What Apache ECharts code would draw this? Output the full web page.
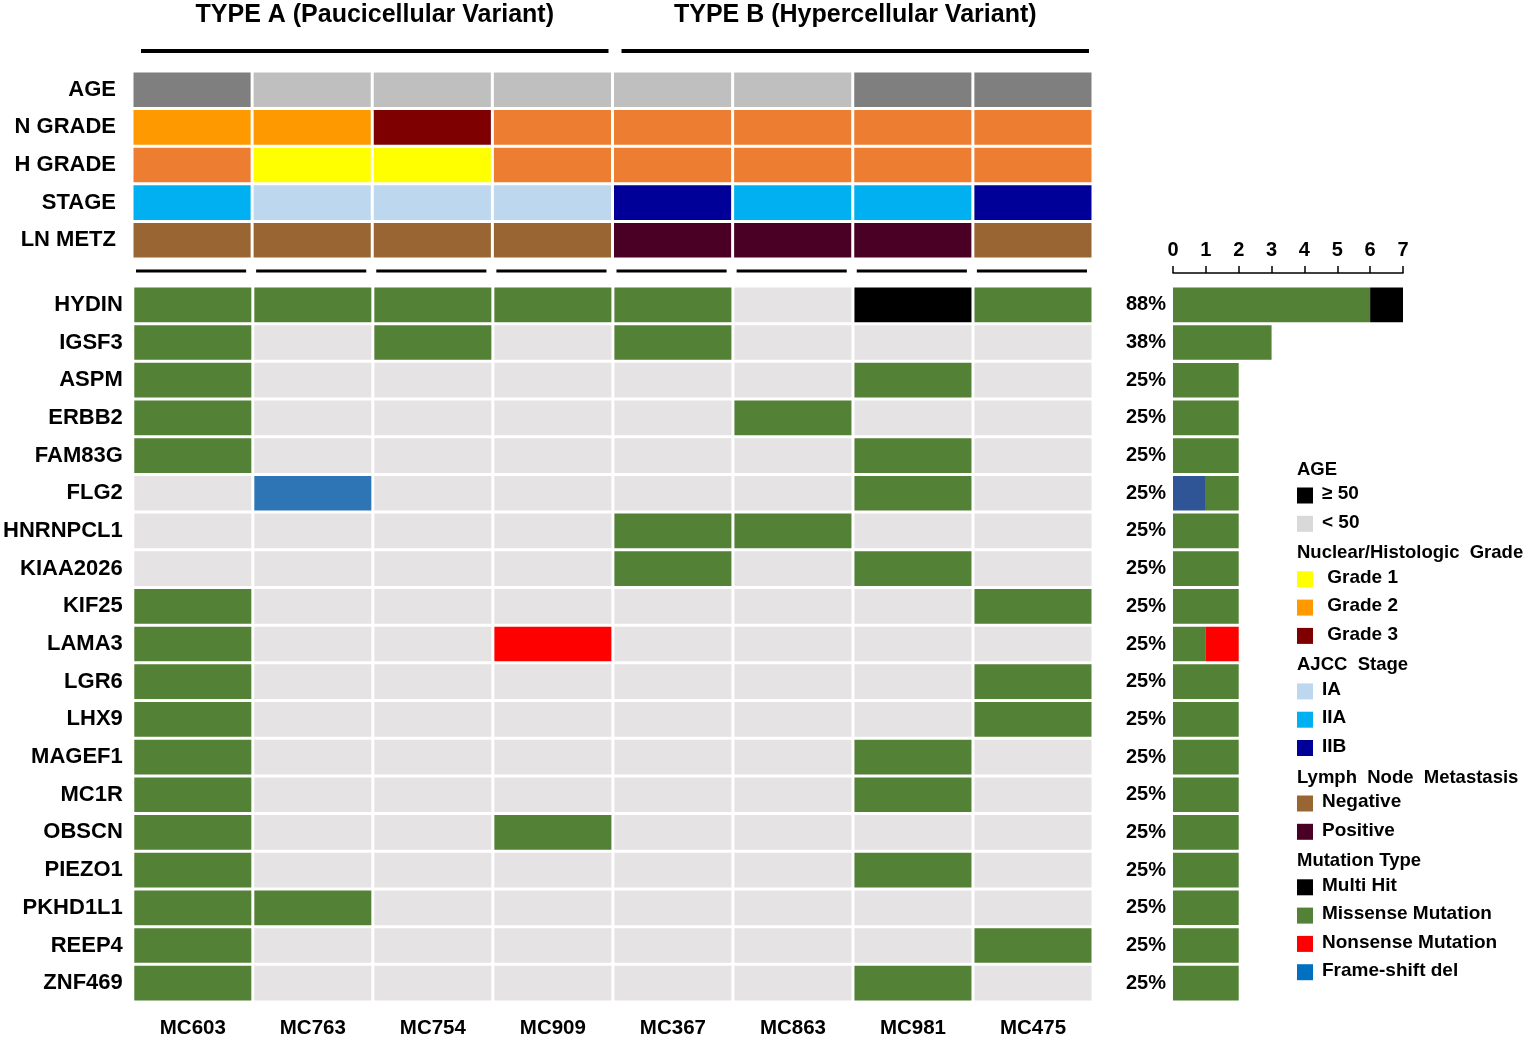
<!DOCTYPE html>
<html><head><meta charset="utf-8">
<script src="https://cdn.jsdelivr.net/npm/echarts@6/dist/echarts.min.js"></script>
<style>html,body{margin:0;padding:0;background:#fff}#c{width:1535px;height:1046px}</style>
</head><body><div id="c"></div>
<script>
// ---------- DATA ----------
const samples = ['MC603','MC763','MC754','MC909','MC367','MC863','MC981','MC475'];
const groupTitles = ['TYPE A (Paucicellular Variant)','TYPE B (Hypercellular Variant)'];
const groupStart = [0, 4];
const groupEnd = [3, 7];
const clinicalRows = ['AGE','N GRADE','H GRADE','STAGE','LN METZ'];
const ageRow   = ['old','young','young','young','young','young','old','old'];
const nGradeRow = ['G2','G2','G3','G2b','G2b','G2b','G2b','G2b'];
const hGradeRow = ['G2b','G1','G1','G2b','G2b','G2b','G2b','G2b'];
const stageRow = ['IIA','IA','IA','IA','IIB','IIA','IIA','IIB'];
const lnRow    = ['NEG','NEG','NEG','NEG','POS','POS','POS','NEG'];
const genes = ['HYDIN','IGSF3','ASPM','ERBB2','FAM83G','FLG2','HNRNPCL1','KIAA2026','KIF25','LAMA3','LGR6','LHX9','MAGEF1','MC1R','OBSCN','PIEZO1','PKHD1L1','REEP4','ZNF469'];
// M = missense, H = multi hit, N = nonsense, F = frame-shift del, . = none
const mutations = [
  ['M','M','M','M','M','.','H','M'],
  ['M','.','M','.','M','.','.','.'],
  ['M','.','.','.','.','.','M','.'],
  ['M','.','.','.','.','M','.','.'],
  ['M','.','.','.','.','.','M','.'],
  ['.','F','.','.','.','.','M','.'],
  ['.','.','.','.','M','M','.','.'],
  ['.','.','.','.','M','.','M','.'],
  ['M','.','.','.','.','.','.','M'],
  ['M','.','.','N','.','.','.','.'],
  ['M','.','.','.','.','.','.','M'],
  ['M','.','.','.','.','.','.','M'],
  ['M','.','.','.','.','.','M','.'],
  ['M','.','.','.','.','.','M','.'],
  ['M','.','.','M','.','.','.','.'],
  ['M','.','.','.','.','.','M','.'],
  ['M','M','.','.','.','.','.','.'],
  ['M','.','.','.','.','.','.','M'],
  ['M','.','.','.','.','.','M','.']
];
const frameshiftCount = [0,0,0,0,0,1,0,0,0,0,0,0,0,0,0,0,0,0,0];
const missenseCount   = [6,3,2,2,2,1,2,2,2,1,2,2,2,2,2,2,2,2,2];
const nonsenseCount   = [0,0,0,0,0,0,0,0,0,1,0,0,0,0,0,0,0,0,0];
const multiHitCount   = [1,0,0,0,0,0,0,0,0,0,0,0,0,0,0,0,0,0,0];
const pctLabels = ['88%','38%','25%','25%','25%','25%','25%','25%','25%','25%','25%','25%','25%','25%','25%','25%','25%','25%','25%'];
const countTicks = [0,1,2,3,4,5,6,7];

const legendTitles = ['AGE','Nuclear/Histologic  Grade','AJCC  Stage','Lymph  Node  Metastasis','Mutation Type'];
const legendAge = [['\u2265 50','#000000'],['< 50','#d9d9d9']];
const legendGrade = [[' Grade 1','#ffff00'],[' Grade 2','#ff9900'],[' Grade 3','#7f0000']];
const legendStage = [['IA','#bdd7ee'],['IIA','#00b0f0'],['IIB','#000099']];
const legendLN = [['Negative','#996633'],['Positive','#4a0025']];
const legendMut = [['Multi Hit','#000000'],['Missense Mutation','#538135'],['Nonsense Mutation','#ff0000'],['Frame-shift del','#0070c0']];

// ---------- STYLES ----------
const clinColors = {old:'#7f7f7f', young:'#bfbfbf', G1:'#ffff00', G2:'#ff9900', G2b:'#ed7d31', G3:'#7f0000',
  IA:'#bdd7ee', IIA:'#00b0f0', IIB:'#000099', NEG:'#996633', POS:'#4a0025'};
const mutColors = {M:'#538135', H:'#000000', N:'#ff0000', F:'#2e75b6', '.':'#e5e3e3'};
const FONT = '"Liberation Sans", Arial, sans-serif';

const clinData = [];
[ageRow, nGradeRow, hGradeRow, stageRow, lnRow].forEach((row, r) =>
  row.forEach((k, c) => clinData.push({value:[c, r], itemStyle:{color: clinColors[k]}})));
const geneData = [];
mutations.forEach((row, r) => row.forEach((k, c) => geneData.push({value:[c, r], itemStyle:{color: mutColors[k]}})));

function cellRender(gx, gy) {
  return function (params, api) {
    const p = api.coord([api.value(0), api.value(1)]);
    const s = api.size([1, 1]);
    return {type:'rect', shape:{x:p[0]-s[0]/2+gx/2, y:p[1]-s[1]/2+gy/2, width:s[0]-gx, height:s[1]-gy},
      style:{fill: api.visual('color')}};
  };
}

const chart = echarts.init(document.getElementById('c'), null, {renderer:'canvas'});
const lab = (size, extra) => Object.assign({color:'#000', fontFamily:FONT, fontWeight:'bold', fontSize:size}, extra||{});

const barSeries = [
  ['Frame-shift del', frameshiftCount, '#2f5597'],
  ['Missense Mutation', missenseCount, '#538135'],
  ['Nonsense Mutation', nonsenseCount, '#ff0000'],
  ['Multi Hit', multiHitCount, '#000000']
].map(([name, data, color]) => ({
  name, type:'bar', stack:'total', xAxisIndex:2, yAxisIndex:2, data,
  itemStyle:{color}, barCategoryGap:'8%', silent:true
}));

// legend graphics
const legendSections = [legendAge, legendGrade, legendStage, legendLN, legendMut];
const gfx = [];
let ly = 471;
legendSections.forEach((items, si) => {
  if (si > 0) ly += 31;
  gfx.push({type:'text', left:1297, top:ly-11, style:{text:legendTitles[si], font:'bold 18.5px '+FONT, fill:'#000'}});
  items.forEach((it, ii) => {
    ly += (ii === 0 ? 24.5 : 28.3);
    gfx.push({type:'rect', left:1297, top:ly-8, shape:{width:16, height:16}, style:{fill:it[1]}});
    gfx.push({type:'text', left:1322, top:ly-11, style:{text:it[0], font:'bold 19px '+FONT, fill:'#000'}});
  });
});

chart.setOption({
  animation:false,
  backgroundColor:'#fff',
  graphic: gfx,
  grid:[
    {left:132, top:71, width:961, height:188},
    {left:132, top:286, width:961, height:716},
    {left:1173, top:286, width:230, height:716}
  ],
  xAxis:[
    {gridIndex:0, type:'category', data:samples, show:false},
    {gridIndex:1, type:'category', data:samples, position:'bottom',
      axisLine:{show:false}, axisTick:{show:false}, axisLabel:lab(20.5, {margin:16})},
    {gridIndex:2, type:'value', min:0, max:7, interval:1, position:'top', offset:13,
      axisLine:{show:true, lineStyle:{color:'#000', width:1.5}},
      axisTick:{show:true, length:7, lineStyle:{color:'#000', width:1.5}},
      splitLine:{show:false},
      axisLabel:lab(20, {margin:13, formatter:(v)=> countTicks.indexOf(v) >= 0 ? String(v) : ''})}
  ],
  yAxis:[
    {gridIndex:0, type:'category', data:clinicalRows, inverse:true,
      axisLine:{show:false}, axisTick:{show:false}, axisLabel:lab(22, {margin:16})},
    {gridIndex:1, type:'category', data:genes, inverse:true,
      axisLine:{show:false}, axisTick:{show:false}, axisLabel:lab(22, {margin:10})},
    {gridIndex:2, type:'category', data:genes, inverse:true,
      axisLine:{show:false}, axisTick:{show:false},
      axisLabel:lab(20, {margin:7, formatter:(v, i)=> pctLabels[i]})}
  ],
  series:[
    {type:'custom', xAxisIndex:0, yAxisIndex:0, data:clinData, renderItem:cellRender(3, 3), silent:true},
    {type:'custom', xAxisIndex:1, yAxisIndex:1, data:geneData, renderItem:cellRender(3, 3), silent:true},
    // column separator dashes under clinical rows
    {type:'custom', xAxisIndex:0, yAxisIndex:0, clip:false, silent:true,
      data:samples.map((s, i) => [i, clinicalRows.length-1]),
      renderItem:function(params, api){
        const p = api.coord([api.value(0), api.value(1)]);
        const s = api.size([1, 1]);
        const y = p[1] + s[1]/2 + 12;
        return {type:'line', shape:{x1:p[0]-s[0]/2+4, y1:y, x2:p[0]+s[0]/2-6, y2:y},
          style:{stroke:'#000', lineWidth:3}};
      }},
    // group header lines and titles
    {type:'custom', xAxisIndex:0, yAxisIndex:0, clip:false, silent:true,
      data:groupStart.map((st, i) => [st, 0, groupEnd[i]]),
      renderItem:function(params, api){
        const a = api.coord([api.value(0), 0]);
        const b = api.coord([api.value(2), 0]);
        const s = api.size([1, 1]);
        const x0 = a[0]-s[0]/2+9, x1 = b[0]+s[0]/2-4;
        const top = a[1]-s[1]/2;
        return {type:'group', children:[
          {type:'line', shape:{x1:x0, y1:top-20, x2:x1, y2:top-20}, style:{stroke:'#000', lineWidth:4}},
          {type:'text', style:{text:groupTitles[params.dataIndex], x:(x0+x1)/2, y:top-56,
            align:'center', verticalAlign:'middle', textAlign:'center', textVerticalAlign:'middle',
            font:'bold 25px '+FONT, fill:'#000'}}
        ]};
      }}
  ].concat(barSeries)
});
</script>
</body></html>
